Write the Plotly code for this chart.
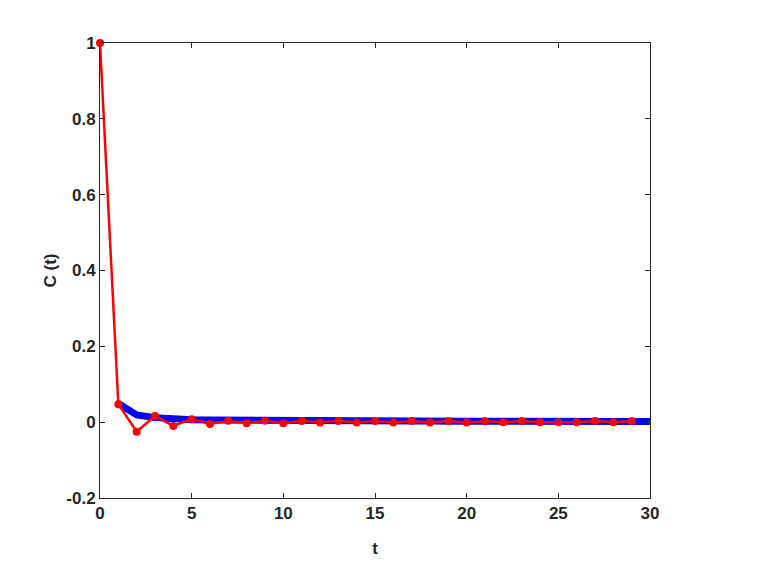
import plotly.graph_objects as go

# Data
t_red = list(range(0, 30))
c_red = [1.0, 0.0475, -0.025, 0.016, -0.010, 0.008, -0.005, 0.004, -0.003, 0.004,
         -0.003, 0.0034, -0.001, 0.0034, -0.001, 0.0034, -0.0008, 0.0034, -0.0008, 0.0034,
         -0.0008, 0.0025, 0.0, 0.003, 0.0, 0.0, 0.0, 0.003, 0.0, 0.003]

t_blue = list(range(1, 31))
c_blue = [0.049, 0.019, 0.012, 0.008, 0.0065, 0.0055, 0.005, 0.0045, 0.0042, 0.004,
          0.0038, 0.0036, 0.0034, 0.0033, 0.0032, 0.0031, 0.003, 0.0029, 0.0028, 0.0027,
          0.0026, 0.0025, 0.0024, 0.0023, 0.0022, 0.0021, 0.002, 0.0019, 0.0018, 0.0017]

x_ticks = [0, 5, 10, 15, 20, 25, 30]
y_ticks = [-0.2, 0, 0.2, 0.4, 0.6, 0.8, 1]
y_tick_text = ["-0.2", "0", "0.2", "0.4", "0.6", "0.8", "1"]

ink = "#262626"
font = dict(family="Liberation Sans, Arial, sans-serif", size=17, color=ink, weight="bold")

fig = go.Figure()
fig.add_trace(go.Scatter(x=t_blue, y=c_blue, mode="lines",
                         line=dict(color="#0000ff", width=7), showlegend=False))
fig.add_trace(go.Scatter(x=t_red, y=c_red, mode="lines+markers", cliponaxis=False,
                         line=dict(color="#ff0000", width=2.5),
                         marker=dict(color="#ff0000", size=8), showlegend=False))

axis_common = dict(showgrid=False, zeroline=False, showline=True, linecolor=ink, linewidth=1,
                   mirror="allticks", ticks="inside", ticklen=5, tickcolor=ink, tickwidth=1,
                   tickfont=font)

fig.update_xaxes(range=[0, 30], tickvals=x_ticks, ticktext=[str(v) for v in x_ticks],
                 title=dict(text="t", font=font, standoff=19), **axis_common)
fig.update_yaxes(range=[-0.2, 1], tickvals=y_ticks, ticktext=y_tick_text,
                 title=dict(text="C (t)", font=font, standoff=5), **axis_common)

fig.update_layout(width=768, height=576, margin=dict(l=100, r=118, t=43, b=78),
                  plot_bgcolor="white", paper_bgcolor="white", font=font)

fig.write_html("out.html", config={"displayModeBar": False},
               post_script="document.body.style.margin='0';")
